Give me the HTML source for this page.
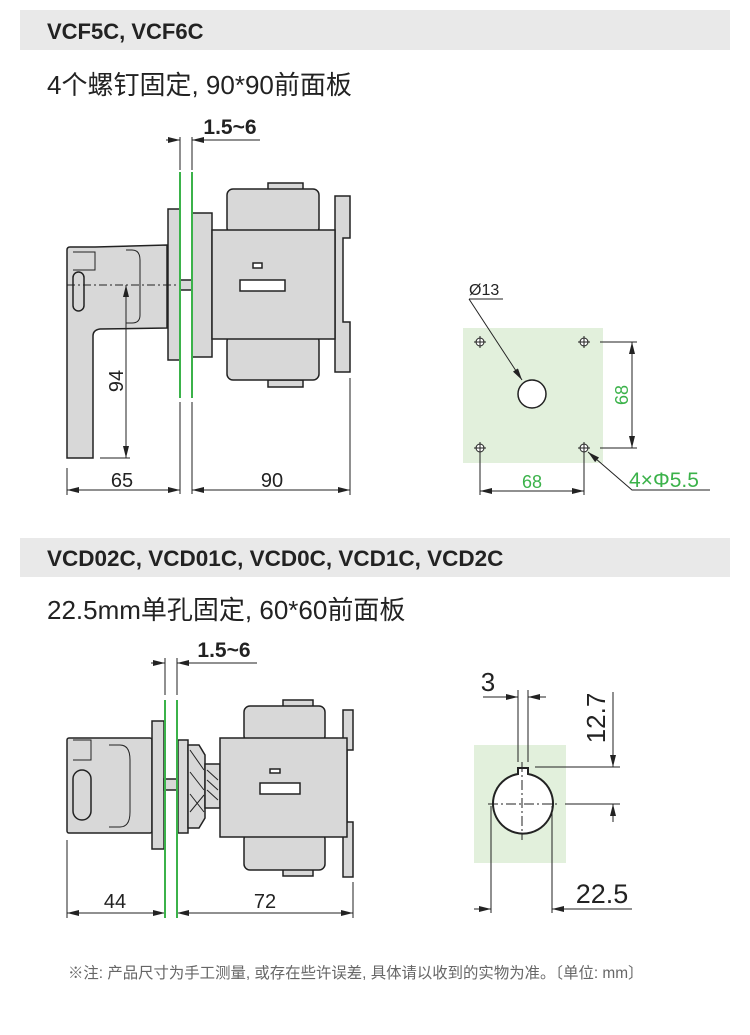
<!DOCTYPE html>
<html><head><meta charset="utf-8"><style>
body{margin:0;background:#fff;width:750px;height:1035px;overflow:hidden}
svg{display:block}
text{font-family:"Liberation Sans","Noto Sans CJK SC",sans-serif}
</style></head><body>
<svg width="750" height="1035" viewBox="0 0 750 1035" xmlns="http://www.w3.org/2000/svg">
<defs>
<marker id="a" viewBox="0 0 12 6" refX="12" refY="3" markerWidth="12" markerHeight="6" orient="auto-start-reverse" markerUnits="userSpaceOnUse"><path d="M0,0L12,3L0,6z" fill="#222"/></marker>
</defs>
<rect x="20" y="10" width="710" height="40" fill="#e9e9e9"/>
<text x="47" y="39" font-size="22" font-weight="bold" fill="#222">VCF5C, VCF6C</text>
<text x="47" y="94" font-size="26" fill="#222">4个螺钉固定, 90*90前面板</text>
<rect x="20" y="538" width="710" height="39" fill="#e9e9e9"/>
<text x="47" y="566" font-size="22.5" font-weight="bold" fill="#222">VCD02C, VCD01C, VCD0C, VCD1C, VCD2C</text>
<text x="47" y="619" font-size="26" fill="#222">22.5mm单孔固定, 60*60前面板</text>

<g stroke="#222" stroke-width="1.5" fill="#d8d8d8">
<path d="M67,250 Q67,247 70,247 L95,247 L167,245 L167,328 L100,329 Q93,330 93,336 L93,458 L67,458 Z"/>
<rect x="73" y="272" width="11" height="39" rx="5.5" fill="#d8d8d8"/>
<path d="M73,252 H95 V270 H73" fill="none" stroke-width="1"/>
<path d="M126,250 H132 Q140,250 140,260 V315 Q140,323 132,323 H126" fill="none" stroke-width="1"/>
<rect x="168" y="209" width="12" height="151"/>
<rect x="180" y="280" width="12" height="10"/>
<rect x="192" y="213" width="20" height="144"/>
<rect x="268" y="183" width="35" height="7"/>
<rect x="268" y="380" width="35" height="7"/>
<rect x="227" y="189" width="92" height="45" rx="6"/>
<rect x="227" y="335" width="92" height="45" rx="6"/>
<path d="M335,196 H350 V238 H343 V322 H350 V372 H335 Z"/>
<rect x="212" y="230" width="123" height="109"/>
<rect x="253" y="263" width="9" height="5" fill="#fff"/>
<rect x="240" y="280" width="45" height="11" fill="#fff"/>
<rect x="67" y="738" width="85" height="95" rx="2"/>
<path d="M73,740 H91 V760 H73" fill="none" stroke-width="1"/>
<rect x="73" y="770" width="18" height="50" rx="9"/>
<path d="M109,745 H120 Q130,745 130,760 V812 Q130,827 120,827 H109" fill="none" stroke-width="1"/>
<rect x="152" y="721" width="12" height="128"/>
<rect x="164" y="779" width="14" height="11"/>
<rect x="178" y="740" width="10" height="93"/>
<path d="M188,745 H199 L205,755 V818 L199,828 H188 Z"/>
<path d="M190,750 L204,770 M190,772 L204,790 M190,794 L204,812 M190,812 L204,795" stroke-width="1" fill="none"/>
<rect x="205" y="764" width="15" height="44"/>
<path d="M207,770 L218,780 M207,780 L218,790 M207,790 L218,800" stroke-width="1" fill="none"/>
<rect x="283" y="700" width="30" height="7"/>
<rect x="283" y="869" width="30" height="7"/>
<rect x="244" y="706" width="81" height="36" rx="6"/>
<rect x="244" y="833" width="81" height="37" rx="6"/>
<path d="M343,710 H353 V750 H347 V822 H353 V877 H343 Z"/>
<rect x="220" y="738" width="127" height="99"/>
<rect x="270" y="769" width="10" height="4" fill="#fff"/>
<rect x="260" y="783" width="40" height="11" fill="#fff"/>
</g>

<g stroke="#222" stroke-width="1" fill="none">
<line x1="67" y1="285" x2="180" y2="285" stroke-dasharray="8,3,2,3"/>
<line x1="180" y1="137" x2="180" y2="170"/><line x1="192" y1="137" x2="192" y2="170"/>
<line x1="180" y1="402" x2="180" y2="494"/><line x1="192" y1="402" x2="192" y2="494"/>
<line x1="166" y1="140" x2="180" y2="140" marker-end="url(#a)"/>
<line x1="260" y1="140" x2="192" y2="140" marker-end="url(#a)"/>
<line x1="126" y1="285" x2="126" y2="458" marker-start="url(#a)" marker-end="url(#a)"/>
<line x1="100" y1="458" x2="130" y2="458"/>
<line x1="67" y1="468" x2="67" y2="495"/><line x1="350" y1="378" x2="350" y2="495"/>
<line x1="67" y1="490" x2="180" y2="490" marker-start="url(#a)" marker-end="url(#a)"/>
<line x1="192" y1="490" x2="350" y2="490" marker-start="url(#a)" marker-end="url(#a)"/>
</g>
<g stroke="#3bb24a" stroke-width="2"><line x1="180" y1="172" x2="180" y2="398"/><line x1="192" y1="172" x2="192" y2="398"/></g>
<text x="230" y="134" font-size="21" text-anchor="middle" fill="#222" font-weight="bold">1.5~6</text>
<text x="0" y="0" font-size="20" text-anchor="middle" fill="#222" transform="translate(123,381) rotate(-90)">94</text>
<text x="122" y="487" font-size="20" text-anchor="middle" fill="#222">65</text>
<text x="272" y="487" font-size="20" text-anchor="middle" fill="#222">90</text>

<rect x="463" y="328" width="140" height="135" fill="#e2f0dc"/>
<g stroke="#222" stroke-width="1" fill="none">
<g id="h"><circle cx="480" cy="342" r="4" fill="#fff"/><line x1="474" y1="342" x2="486" y2="342"/><line x1="480" y1="336" x2="480" y2="348"/></g>
<use href="#h" x="104"/><use href="#h" y="106"/><use href="#h" x="104" y="106"/>
<circle cx="532" cy="394" r="14" fill="#fff" stroke-width="1.5"/>
<path d="M469,299 H503"/><line x1="469" y1="299" x2="522" y2="380" marker-end="url(#a)"/>
<line x1="600" y1="342" x2="637" y2="342"/><line x1="600" y1="448" x2="637" y2="448"/>
<line x1="632" y1="342" x2="632" y2="448" marker-start="url(#a)" marker-end="url(#a)"/>
<line x1="480" y1="452" x2="480" y2="495"/><line x1="584" y1="452" x2="584" y2="495"/>
<line x1="480" y1="491" x2="584" y2="491" marker-start="url(#a)" marker-end="url(#a)"/>
<path d="M710,490 H632 L588,452" marker-end="url(#a)"/>
</g>
<text x="469" y="295" font-size="16" fill="#222">Ø13</text>
<text x="0" y="0" font-size="18" text-anchor="middle" fill="#3bb24a" transform="translate(628,395) rotate(-90)">68</text>
<text x="532" y="488" font-size="18" text-anchor="middle" fill="#3bb24a">68</text>
<text x="629" y="487" font-size="21" fill="#3bb24a">4×Φ5.5</text>

<g stroke="#222" stroke-width="1" fill="none">
<line x1="165" y1="658" x2="165" y2="695"/><line x1="177" y1="658" x2="177" y2="695"/>
<line x1="151" y1="663" x2="165" y2="663" marker-end="url(#a)"/>
<line x1="257" y1="663" x2="177" y2="663" marker-end="url(#a)"/>
<line x1="67" y1="840" x2="67" y2="918"/><line x1="353" y1="882" x2="353" y2="918"/>
<line x1="67" y1="913" x2="165" y2="913" marker-start="url(#a)" marker-end="url(#a)"/>
<line x1="177" y1="913" x2="353" y2="913" marker-start="url(#a)" marker-end="url(#a)"/>
</g>
<g stroke="#3bb24a" stroke-width="2"><line x1="165" y1="700" x2="165" y2="918"/><line x1="177" y1="700" x2="177" y2="918"/></g>
<text x="224" y="657" font-size="21" text-anchor="middle" fill="#222" font-weight="bold">1.5~6</text>
<text x="115" y="908" font-size="20" text-anchor="middle" fill="#222">44</text>
<text x="265" y="908" font-size="20" text-anchor="middle" fill="#222">72</text>

<rect x="474" y="745" width="92" height="118" fill="#e2f0dc"/>
<g stroke="#222" fill="none" stroke-width="1">
<path d="M518,774 A30,30 0 1 0 528,774 V768 H518 Z" fill="#fff" stroke-width="2"/>
<line x1="488" y1="804" x2="558" y2="804" stroke-dasharray="10,3,2,3"/>
<line x1="522" y1="762" x2="522" y2="840" stroke-dasharray="10,3,2,3"/>
<line x1="518" y1="690" x2="518" y2="762"/><line x1="528" y1="690" x2="528" y2="762"/>
<line x1="483" y1="697" x2="518" y2="697" marker-end="url(#a)"/>
<line x1="546" y1="697" x2="528" y2="697" marker-end="url(#a)"/>
<line x1="535" y1="767" x2="620" y2="767"/><line x1="565" y1="804" x2="620" y2="804"/>
<line x1="613" y1="692" x2="613" y2="767" marker-end="url(#a)"/>
<line x1="613" y1="822" x2="613" y2="804" marker-end="url(#a)"/>
<line x1="491" y1="806" x2="491" y2="913"/><line x1="552" y1="806" x2="552" y2="913"/>
<line x1="474" y1="909" x2="491" y2="909" marker-end="url(#a)"/>
<line x1="632" y1="909" x2="552" y2="909" marker-end="url(#a)"/>
</g>
<text x="488" y="691" font-size="26" text-anchor="middle" fill="#222">3</text>
<text x="0" y="0" font-size="26" text-anchor="middle" fill="#222" transform="translate(605,718) rotate(-90)">12.7</text>
<text x="602" y="903" font-size="27" text-anchor="middle" fill="#222">22.5</text>

<text x="68" y="978" font-size="15.4" fill="#666">※注: 产品尺寸为手工测量, 或存在些许误差, 具体请以收到的实物为准。〔单位: mm〕</text>
</svg>
</body></html>
